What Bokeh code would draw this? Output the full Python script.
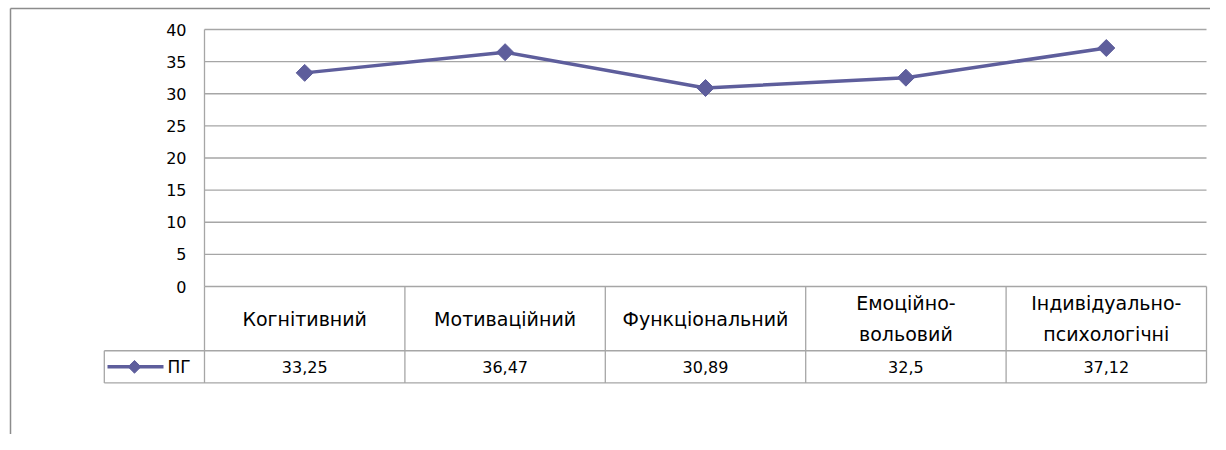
import math
from bokeh.plotting import figure
from bokeh.models import Range1d
from bokeh.embed import file_html
from bokeh.resources import INLINE
from bokeh.core.properties import value

# ---- data ----
categories = ["Когнітивний", "Мотиваційний", "Функціональний",
              "Емоційно-\nвольовий", "Індивідуально-\nпсихологічні"]
series_name = "ПГ"
pg_values = [33.25, 36.47, 30.89, 32.5, 37.12]
y_ticks = [0, 5, 10, 15, 20, 25, 30, 35, 40]

# ---- layout constants ----
W, H = 1210, 434
FONT = value("DejaVu Sans")
FS = "16px"
CAT_FS = "19px"
LINE_COLOR = "#5E5E9C"
GRID = "#A6A6A6"

n = len(categories)
px_per_x = 200.4          # pixels per category column
px_per_y = 6.425          # pixels per value unit
x_zero_px = 204           # frame-relative pixel of x=0
y_zero_px = 286           # frame-relative pixel of y=0 (from top)

x_start = -x_zero_px / px_per_x
x_end = (W - x_zero_px) / px_per_x
y_end = y_zero_px / px_per_y
y_start = -(H - y_zero_px) / px_per_y

p = figure(width=W, height=H, output_backend="svg", toolbar_location=None,
           x_range=Range1d(x_start, x_end), y_range=Range1d(y_start, y_end),
           min_border=0, min_border_left=0, min_border_right=0,
           min_border_top=0, min_border_bottom=0)
p.axis.visible = False
p.grid.visible = False
p.outline_line_color = None
p.background_fill_color = "white"
p.border_fill_color = "white"

y_max = max(y_ticks)
header_bottom = -10
value_bottom = -15
legend_left = -0.5

# outer chart border (left and top)
p.line([x_start + 10 / px_per_x] * 2, [y_start, y_end - 8 / px_per_y],
       line_color="#8C8C8C", line_width=1.5)
p.line([x_start + 10 / px_per_x, x_end], [y_end - 8 / px_per_y] * 2,
       line_color="#8C8C8C", line_width=1.5)

# horizontal gridlines
p.segment(x0=[0] * len(y_ticks), y0=y_ticks, x1=[n] * len(y_ticks), y1=y_ticks,
          line_color=GRID, line_width=1.3)

# y tick labels
p.text(x=[-18 / px_per_x] * len(y_ticks), y=y_ticks, text=[str(t) for t in y_ticks],
       text_font=FONT, text_font_size=FS, text_align="right", text_baseline="middle",
       text_color="#000000")

# table: vertical lines
xs = list(range(n + 1))
p.segment(x0=xs, y0=[0] * (n + 1), x1=xs, y1=[value_bottom] * (n + 1),
          line_color=GRID, line_width=1.3)
# plot area left border
p.line([0, 0], [0, y_max], line_color=GRID, line_width=1.3)
# legend cell left
p.line([legend_left, legend_left], [header_bottom, value_bottom], line_color=GRID, line_width=1.3)
# table horizontal lines
p.segment(x0=[legend_left, legend_left], y0=[header_bottom, value_bottom],
          x1=[n, n], y1=[header_bottom, value_bottom], line_color=GRID, line_width=1.3)

centers = [i + 0.5 for i in range(n)]
# category labels
p.text(x=centers, y=[header_bottom / 2] * n, text=categories,
       text_font=FONT, text_font_size=CAT_FS, text_align="center", text_baseline="middle",
       text_line_height=1.42, text_color="#000000")
# values row
p.text(x=centers, y=[(header_bottom + value_bottom) / 2] * n,
       text=[f"{v:g}".replace(".", ",") for v in pg_values],
       text_font=FONT, text_font_size=FS, text_align="center", text_baseline="middle",
       text_color="#000000")

# series line
p.line(centers, pg_values, line_color=LINE_COLOR, line_width=3.5)
p.scatter(centers, pg_values, marker="square", angle=math.pi / 4, size=12,
          fill_color=LINE_COLOR, line_color=LINE_COLOR)

# legend key in table
ly = (header_bottom + value_bottom) / 2
p.line([-97 / px_per_x, -41 / px_per_x], [ly, ly], line_color=LINE_COLOR, line_width=3.5)
p.scatter([-70 / px_per_x], [ly], marker="square", angle=math.pi / 4, size=9,
          fill_color=LINE_COLOR, line_color=LINE_COLOR)
p.text(x=[-37 / px_per_x], y=[ly], text=[series_name], text_font=FONT, text_font_size="17px",
       text_align="left", text_baseline="middle", text_color="#000000")

open("out.html", "w").write(file_html(p, INLINE))
